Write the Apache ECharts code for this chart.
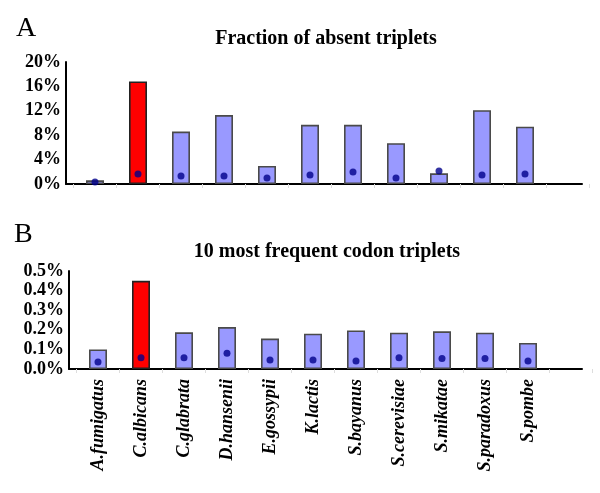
<!DOCTYPE html>
<html>
<head>
<meta charset="utf-8">
<script src="https://cdn.jsdelivr.net/npm/echarts@6/dist/echarts.min.js"></script>
<style>html,body{margin:0;padding:0;background:#fff}#c{width:600px;height:493px}</style>
</head>
<body>
<div id="c"></div>
<script>
var categories = ['A.fumigatus','C.albicans','C.glabrata','D.hansenii','E.gossypii','K.lactis','S.bayanus','S.cerevisiae','S.mikatae','S.paradoxus','S.pombe'];
var absentBars = [0.6, 16.8, 8.6, 11.3, 2.95, 9.7, 9.7, 6.7, 1.75, 12.1, 9.4];
var absentDots = [0.33, 1.64, 1.31, 1.31, 0.98, 1.48, 1.97, 0.98, 2.13, 1.48, 1.64];
var freqBars = [0.10, 0.45, 0.187, 0.214, 0.155, 0.18, 0.197, 0.185, 0.192, 0.185, 0.133];
var freqDots = [0.036, 0.058, 0.058, 0.08, 0.046, 0.046, 0.041, 0.058, 0.053, 0.053, 0.041];
var ticksA = [0, 20, 4];
var ticksB = [0, 0.5, 0.1];
var highlight = 'C.albicans';

var FONT = "'Liberation Serif','Times New Roman',serif";
var cats = categories.concat(['']);
function barData(vals){
  return vals.map(function(v,i){
    var red = categories[i] === highlight;
    return {value: v, itemStyle: {color: red ? '#ff0000' : '#9999ff', borderColor: red ? '#222' : '#4a4a4a', borderWidth: 1.6}};
  });
}
var chart = echarts.init(document.getElementById('c'), null, {renderer:'canvas'});
var lineAxis = {type:'value', min:0, max:1, axisLine:{show:true, lineStyle:{color:'#000', width:2}}, axisTick:{show:false}, axisLabel:{show:false}, splitLine:{show:false}};
var hiddenY = {type:'value', show:false, min:0, max:1};
function catAxis(gi, showLabels){
  return {type:'category', gridIndex:gi, data:cats, boundaryGap:true,
    axisLine:{show:false}, axisTick:{show:true, length:4, lineStyle:{color:'#ddd'}},
    axisLabel:{show:showLabels, rotate:90, interval:0, margin:10, fontFamily:FONT, fontWeight:'bold', fontStyle:'italic', fontSize:18, color:'#000'}};
}
function valAxis(gi, t, fmt){
  return {type:'value', gridIndex:gi, min:t[0], max:t[1], interval:t[2], offset:7.5,
    axisLine:{show:true, lineStyle:{color:'#000', width:2}}, axisTick:{show:false}, splitLine:{show:false},
    axisLabel:{margin:5, fontFamily:FONT, fontWeight:'bold', fontSize:18, color:'#000', padding:[4,0,0,0], formatter:fmt}};
}
chart.setOption({
  animation:false,
  backgroundColor:'#fff',
  title:[
    {text:'A', left:16, top:15, padding:0, textStyle:{fontFamily:FONT, fontWeight:'normal', fontSize:28, color:'#000'}},
    {text:'Fraction of absent triplets', left:326, top:29, padding:0, textAlign:'center', textStyle:{fontFamily:FONT, fontWeight:'bold', fontSize:20, color:'#000'}},
    {text:'B', left:14, top:221, padding:0, textStyle:{fontFamily:FONT, fontWeight:'normal', fontSize:28, color:'#000'}},
    {text:'10 most frequent codon triplets', left:327, top:242, padding:0, textAlign:'center', textStyle:{fontFamily:FONT, fontWeight:'bold', fontSize:20, color:'#000'}}
  ],
  grid:[
    {left:73.5, top:62, width:516, height:122},
    {left:66, top:62, width:516, height:122},
    {left:76.5, top:271, width:516, height:98},
    {left:69, top:271, width:513, height:98}
  ],
  xAxis:[
    catAxis(0,false),
    Object.assign({gridIndex:1}, lineAxis),
    catAxis(2,true),
    Object.assign({gridIndex:3}, lineAxis)
  ],
  yAxis:[
    valAxis(0, ticksA, function(v){return v+'%';}),
    Object.assign({gridIndex:1}, hiddenY),
    valAxis(2, ticksB, function(v){return v.toFixed(1)+'%';}),
    Object.assign({gridIndex:3}, hiddenY)
  ],
  series:[
    {type:'bar', xAxisIndex:0, yAxisIndex:0, barWidth:18, data:barData(absentBars), z:2},
    {type:'scatter', xAxisIndex:0, yAxisIndex:0, symbolSize:7, itemStyle:{color:'#00008b'}, data:absentDots, z:5},
    {type:'bar', xAxisIndex:2, yAxisIndex:2, barWidth:18, data:barData(freqBars), z:2},
    {type:'scatter', xAxisIndex:2, yAxisIndex:2, symbolSize:7, itemStyle:{color:'#00008b'}, data:freqDots, z:5}
  ]
});
</script>
</body>
</html>
